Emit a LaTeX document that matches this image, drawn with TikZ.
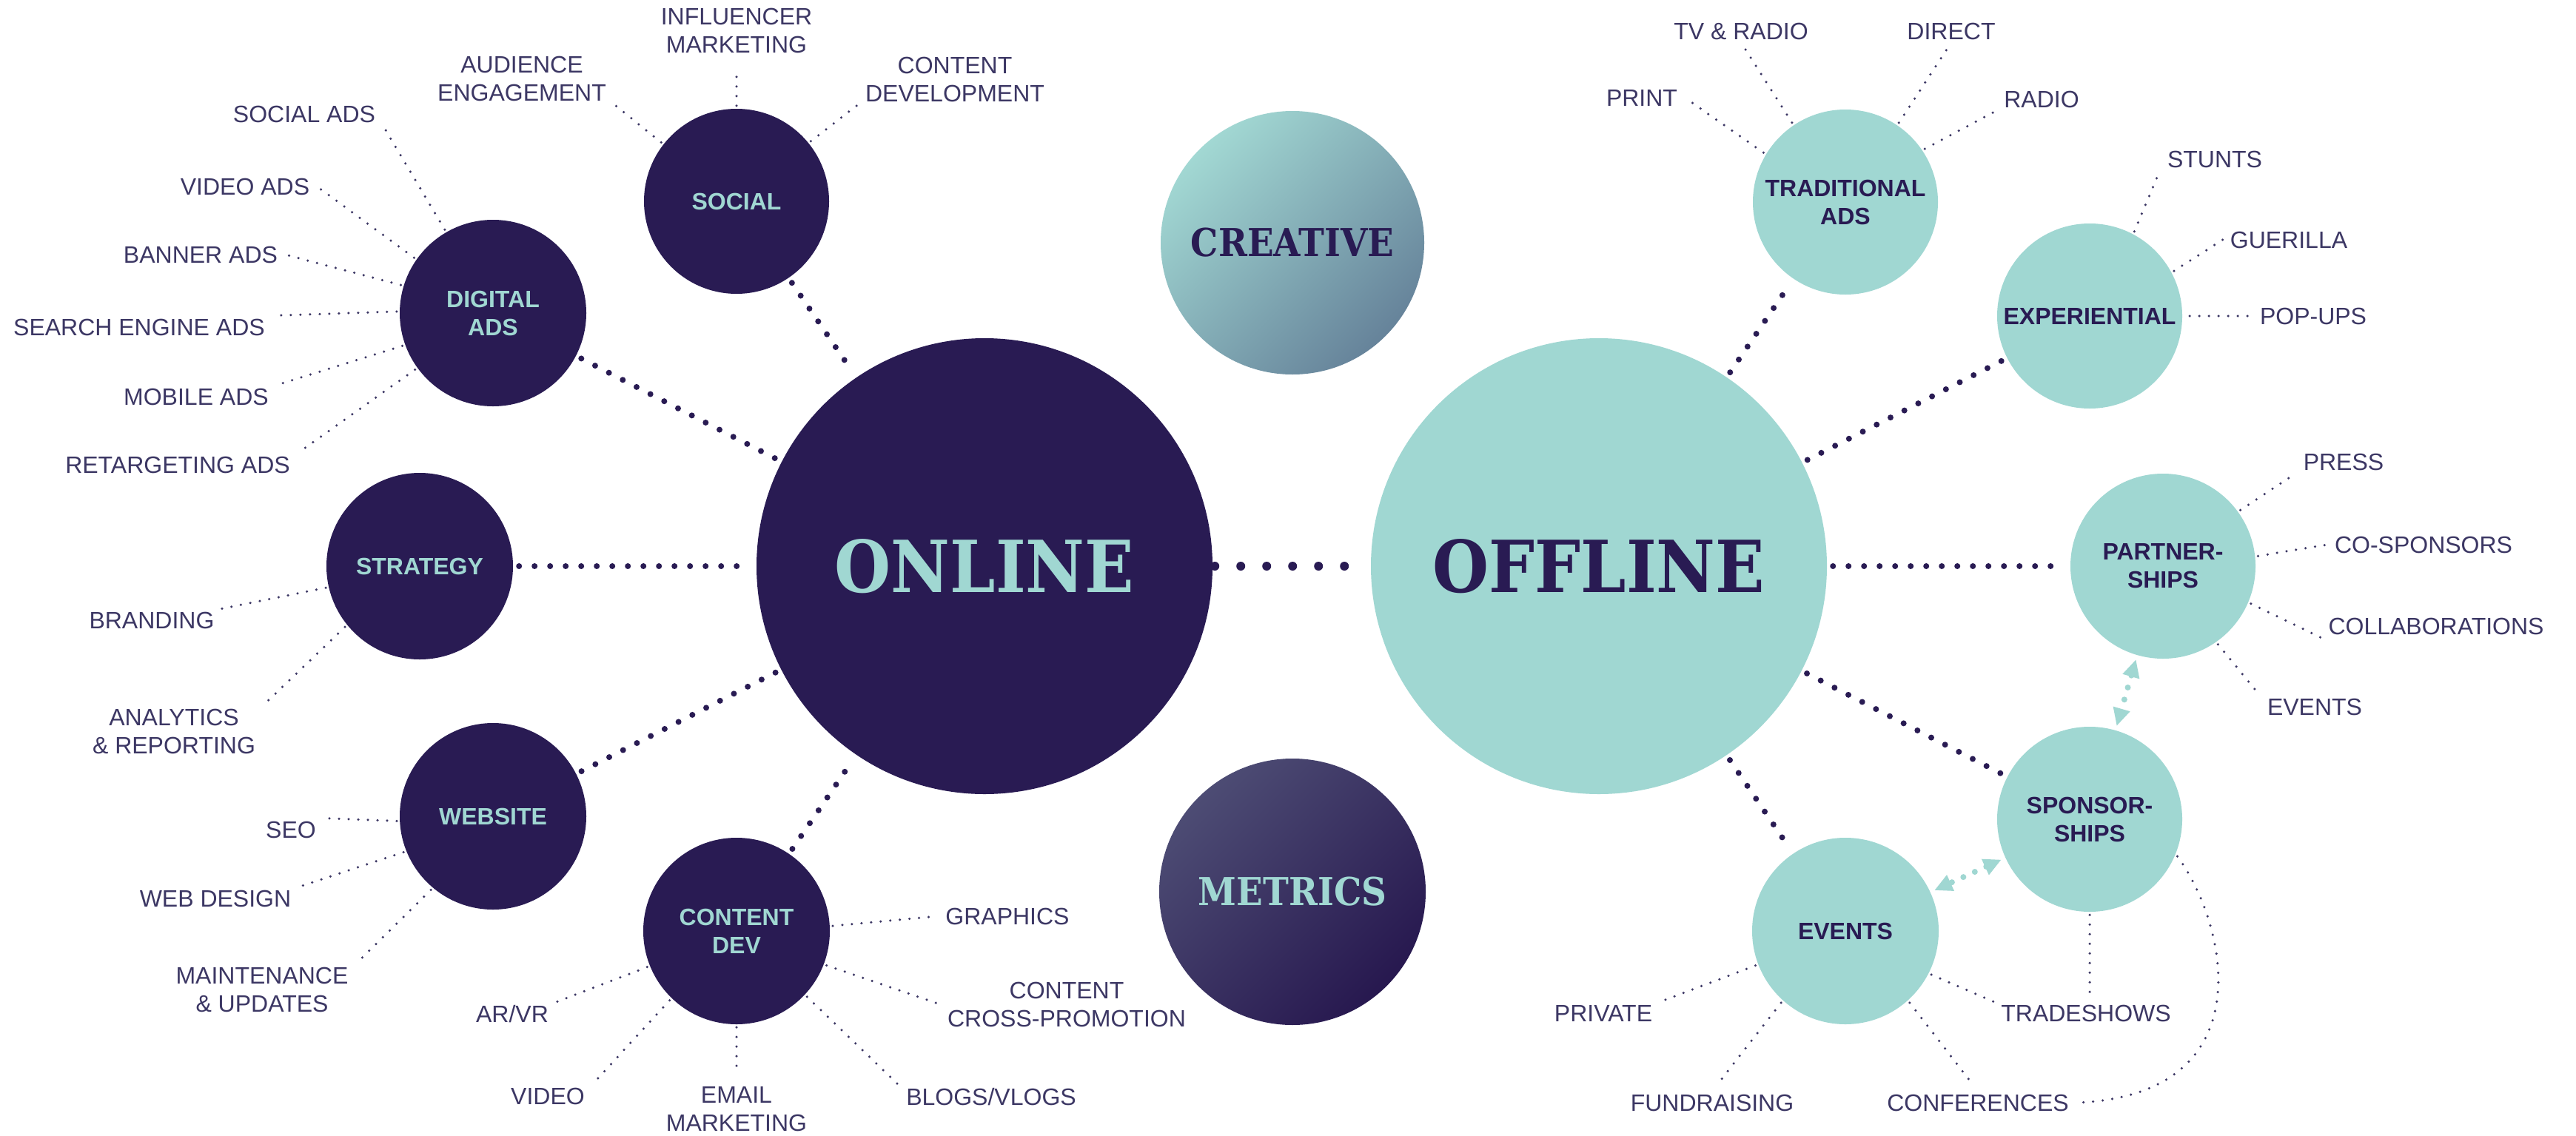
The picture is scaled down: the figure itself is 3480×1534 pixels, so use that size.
\documentclass[tikz,border=0pt]{standalone}
\usepackage{fontspec}
\setmainfont{Liberation Sans}
\newfontfamily\slab{DejaVu Serif}[FakeStretch=0.9]
\usetikzlibrary{arrows.meta}
\definecolor{navy}{HTML}{291B53}
\definecolor{tealc}{HTML}{A0D7D2}
\definecolor{lblc}{HTML}{3C3764}
\definecolor{crA}{HTML}{A2D8D3}
\definecolor{crB}{HTML}{66839A}
\definecolor{meA}{HTML}{4D4C74}
\definecolor{meB}{HTML}{27184F}
\tikzset{
 lbl/.style={font=\fontsize{32}{38}\selectfont, text=lblc, align=center, inner xsep=10pt, inner ysep=4pt},
 darkc/.style={circle, fill=navy, text=tealc, inner sep=0pt, font=\fontsize{32}{38}\selectfont\bfseries, align=center},
 lightc/.style={circle, fill=tealc, text=navy, inner sep=0pt, font=\fontsize{32}{38}\selectfont\bfseries, align=center},
 leaf/.style={draw=lblc, line width=3.5pt, line cap=round, dash pattern=on 0pt off 13pt, shorten <=4pt},
 hub/.style={draw=navy, line width=8pt, line cap=round, dash pattern=on 0pt off 21pt, shorten <=8pt, shorten >=8pt},
 bighub/.style={draw=navy, line width=12pt, line cap=round, dash pattern=on 0pt off 35pt, shorten <=3pt, shorten >=3pt},
 tealarr/.style={draw=tealc, line width=8pt, line cap=round, dash pattern=on 0pt off 17pt, {Triangle[length=24pt,width=22pt]}-{Triangle[length=24pt,width=22pt]}, shorten <=6pt, shorten >=6pt},
}
\begin{document}
\begin{tikzpicture}[x=1pt,y=-1pt]
\fill[white] (0,0) rectangle (3480,1534);
\useasboundingbox (0,0) rectangle (3480,1534);

% main circles
\node[darkc, minimum size=616pt] (online) at (1330,765) {\slab\bfseries\fontsize{97}{100}\selectfont ONLINE};
\node[lightc, minimum size=616pt] (offline) at (2160,765) {\slab\bfseries\fontsize{97}{100}\selectfont OFFLINE};
\node[circle, inner sep=0pt, minimum size=356pt, top color=crA, bottom color=crB, shading angle=45, text=navy] (creative) at (1746,328) {\slab\bfseries\fontsize{52}{56}\selectfont CREATIVE};
\node[circle, inner sep=0pt, minimum size=360pt, top color=meA, bottom color=meB, shading angle=45, text=tealc] (metrics) at (1746,1205) {\slab\bfseries\fontsize{52}{56}\selectfont METRICS};

% online satellites
\node[darkc, minimum size=250pt] (social) at (995,272) {SOCIAL};
\node[darkc, minimum size=252pt] (digads) at (666,423) {DIGITAL\\ADS};
\node[darkc, minimum size=252pt] (strategy) at (567,765) {STRATEGY};
\node[darkc, minimum size=252pt] (website) at (666,1103) {WEBSITE};
\node[darkc, minimum size=252pt] (contentdev) at (995,1258) {CONTENT\\DEV};

% offline satellites
\node[lightc, minimum size=250pt] (tradads) at (2493,273) {TRADITIONAL\\ADS};
\node[lightc, minimum size=250pt] (experiential) at (2823,427) {EXPERIENTIAL};
\node[lightc, minimum size=250pt] (partnerships) at (2922,765) {PARTNER-\\SHIPS};
\node[lightc, minimum size=250pt] (sponsorships) at (2823,1107) {SPONSOR-\\SHIPS};
\node[lightc, minimum size=252pt] (events) at (2493,1258) {EVENTS};

% left labels
\node[lbl] (socialads) at (411,154) {SOCIAL ADS};
\node[lbl] (videoads) at (331,252) {VIDEO ADS};
\node[lbl] (bannerads) at (271,344) {BANNER ADS};
\node[lbl] (searchads) at (188,442) {SEARCH ENGINE ADS};
\node[lbl] (mobileads) at (265,536) {MOBILE ADS};
\node[lbl] (retargeting) at (240,628) {RETARGETING ADS};
\node[lbl] (audience) at (705,106) {AUDIENCE\\ENGAGEMENT};
\node[lbl] (influencer) at (995,41) {INFLUENCER\\MARKETING};
\node[lbl] (contentdevelopment) at (1290,107) {CONTENT\\DEVELOPMENT};
\node[lbl] (branding) at (205,838) {BRANDING};
\node[lbl] (analytics) at (235,988) {ANALYTICS\\\& REPORTING};
\node[lbl] (seo) at (393,1121) {SEO};
\node[lbl] (webdesign) at (291,1214) {WEB DESIGN};
\node[lbl] (maintenance) at (354,1337) {MAINTENANCE\\\& UPDATES};
\node[lbl] (arvr) at (692,1370) {AR/VR};
\node[lbl] (video) at (740,1481) {VIDEO};
\node[lbl] (email) at (995,1499) {EMAIL\\MARKETING};
\node[lbl] (graphics) at (1361,1238) {GRAPHICS};
\node[lbl] (crosspromo) at (1441,1357) {CONTENT\\CROSS-PROMOTION};
\node[lbl] (blogs) at (1339,1482) {BLOGS/VLOGS};

% right labels
\node[lbl] (tvradio) at (2352,42) {TV \& RADIO};
\node[lbl] (direct) at (2636,42) {DIRECT};
\node[lbl] (print) at (2218,132) {PRINT};
\node[lbl] (radio) at (2758,134) {RADIO};
\node[lbl] (stunts) at (2992,215) {STUNTS};
\node[lbl] (guerilla) at (3092,324) {GUERILLA};
\node[lbl] (popups) at (3125,427) {POP-UPS};
\node[lbl] (press) at (3166,624) {PRESS};
\node[lbl] (cosponsors) at (3274,736) {CO-SPONSORS};
\node[lbl] (collaborations) at (3291,846) {COLLABORATIONS};
\node[lbl] (eventslbl) at (3127,955) {EVENTS};
\node[lbl] (private) at (2166,1369) {PRIVATE};
\node[lbl] (fundraising) at (2313,1490) {FUNDRAISING};
\node[lbl] (conferences) at (2672,1490) {CONFERENCES};
\node[lbl] (tradeshows) at (2818,1369) {TRADESHOWS};

% hub connectors
\draw[bighub] (online) -- (offline);
\draw[hub] (social) -- (online);
\draw[hub] (digads) -- (online);
\draw[hub] (strategy) -- (online);
\draw[hub] (website) -- (online);
\draw[hub] (contentdev) -- (online);
\draw[hub] (offline) -- (tradads);
\draw[hub] (offline) -- (experiential);
\draw[hub] (offline) -- (partnerships);
\draw[hub] (offline) -- (sponsorships);
\draw[hub] (offline) -- (events);
\draw[tealarr] (partnerships) -- (sponsorships);
\draw[tealarr] (sponsorships) -- (events);

% leaf connectors left
\draw[leaf] (digads.120) -- (socialads.south east);
\draw[leaf] (digads.145) -- (videoads.east);
\draw[leaf] (digads.163) -- (bannerads.east);
\draw[leaf] (digads.179) -- (searchads.north east);
\draw[leaf] (digads.200) -- (mobileads.north east);
\draw[leaf] (digads.216) -- (retargeting.north east);
\draw[leaf] (social.142) -- (audience.south east);
\draw[leaf, shorten >=16pt] (social.north) -- (influencer.south);
\draw[leaf] (social.39) -- (contentdevelopment.south west);
\draw[leaf] (strategy.193) -- (branding.north east);
\draw[leaf] (strategy.219) -- (analytics.north east);
\draw[leaf] (website.183) -- (seo.north east);
\draw[leaf] (website.202) -- (webdesign.north east);
\draw[leaf] (website.230) -- (maintenance.north east);
\draw[leaf] (contentdev.202) -- (arvr.north east);
\draw[leaf] (contentdev.226) -- (video.north east);
\draw[leaf, shorten >=12pt] (contentdev.south) -- (email.north);
\draw[leaf] (contentdev.3) -- (graphics.west);
\draw[leaf] (contentdev.-21) -- (crosspromo.west);
\draw[leaf] (contentdev.-43) -- (blogs.north west);

% leaf connectors right
\draw[leaf, shorten >=10pt] (tradads.124) -- (tvradio.south);
\draw[leaf, shorten >=10pt] (tradads.56) -- (direct.south);
\draw[leaf] (tradads.149) -- (print.east);
\draw[leaf] (tradads.34) -- (radio.south west);
\draw[leaf] (experiential.62) -- (stunts.south west);
\draw[leaf] (experiential.28) -- (guerilla.west);
\draw[leaf, shorten <=10pt] (experiential.east) -- (popups.west);
\draw[leaf] (partnerships.36) -- (press.south west);
\draw[leaf] (partnerships.6) -- (cosponsors.west);
\draw[leaf] (partnerships.-23) -- (collaborations.south west);
\draw[leaf] (partnerships.-55) -- (eventslbl.north west);
\draw[leaf] (events.201) -- (private.north east);
\draw[leaf, shorten >=16pt] (events.228) -- (fundraising.north);
\draw[leaf, shorten >=16pt] (events.-48) -- (conferences.north);
\draw[leaf] (events.-27) -- (tradeshows.north west);
\draw[leaf, shorten >=8pt] (sponsorships.south) -- (sponsorships.south |- tradeshows.north);
\draw[leaf] (sponsorships.-22) .. controls (3010,1250) and (3060,1480) .. (conferences.east);
\end{tikzpicture}
\end{document}
